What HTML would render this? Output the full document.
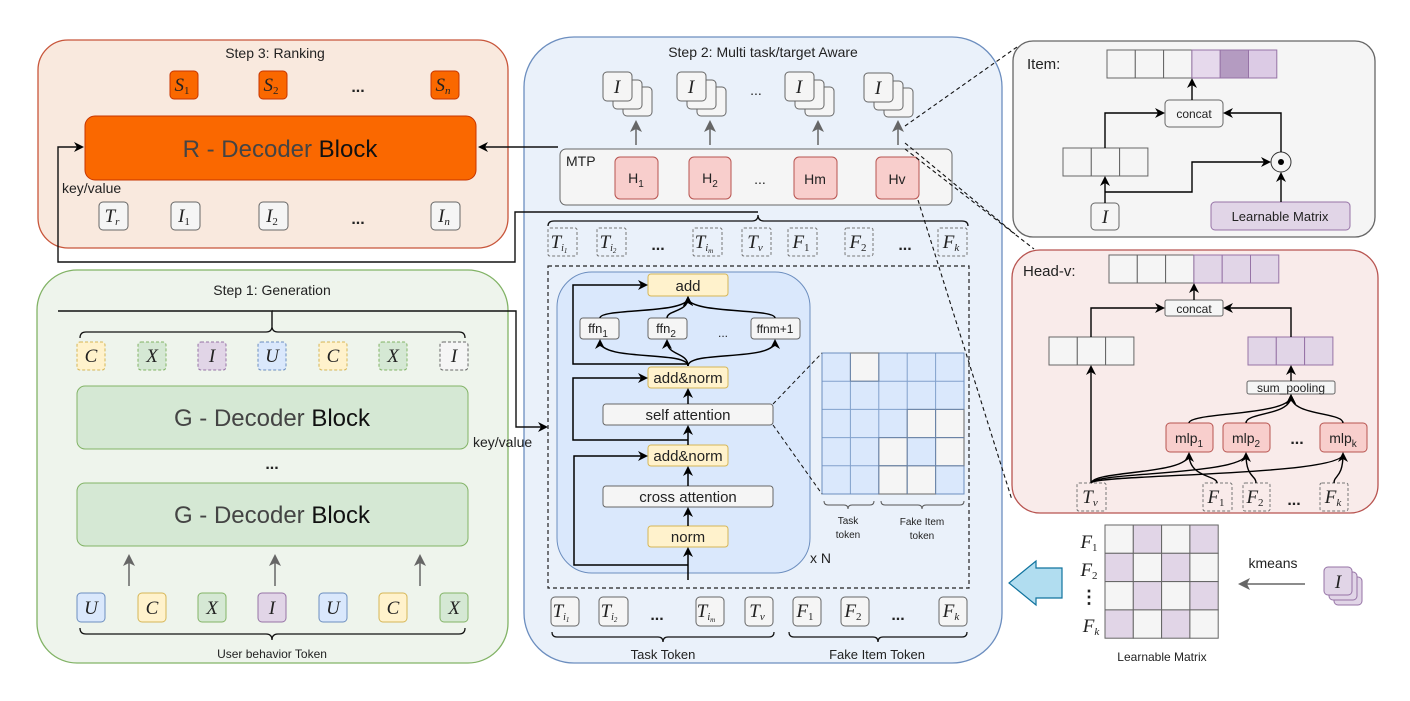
<!DOCTYPE html>
<html><head><meta charset="utf-8"><style>
body{margin:0;background:#fff}
svg{display:block}
text{font-family:"Liberation Sans",sans-serif;fill:#222}
.m{font-family:"Liberation Serif",serif;font-style:italic;font-size:19px;fill:#222}
.s{font-size:11px}
</style></head><body>
<svg width="1410" height="701" viewBox="0 0 1410 701" xmlns="http://www.w3.org/2000/svg">
<defs>
<marker id="a" markerWidth="10" markerHeight="10" refX="8" refY="5" orient="auto" markerUnits="userSpaceOnUse"><path d="M0,0 L10,5 L0,10 L3,5z" fill="#000"/></marker>
<marker id="g" markerWidth="12" markerHeight="12" refX="10" refY="6" orient="auto" markerUnits="userSpaceOnUse"><path d="M0,0 L12,6 L0,12 L3,6z" fill="#666"/></marker>
</defs>

<!-- Step 3 -->
<rect x="38" y="40" width="470" height="208" rx="30" fill="#f9e9de" stroke="#c8563b" stroke-width="1.3"/>
<text x="275" y="58" text-anchor="middle" font-size="14">Step 3: Ranking</text>
<g fill="#fa6800" stroke="#c73500"><rect x="170" y="71" width="28" height="28" rx="4"/><rect x="259" y="71" width="28" height="28" rx="4"/><rect x="431" y="71" width="28" height="28" rx="4"/></g>
<text class="m" x="182" y="91" text-anchor="middle">S<tspan class="s" font-style="normal" dy="3">1</tspan></text>
<text class="m" x="271" y="91" text-anchor="middle">S<tspan class="s" font-style="normal" dy="3">2</tspan></text>
<text class="m" x="443" y="91" text-anchor="middle">S<tspan class="s" dy="3">n</tspan></text>
<text x="358" y="92" text-anchor="middle" font-size="16" font-weight="bold">...</text>
<rect x="85" y="116" width="391" height="64" rx="10" fill="#fa6800" stroke="#c73500"/>
<text x="280" y="157" text-anchor="middle" font-size="24"><tspan fill="#444">R - Decoder</tspan> <tspan fill="#111">Block</tspan></text>
<text x="62" y="193" font-size="14">key/value</text>
<g fill="#f5f5f5" stroke="#666"><rect x="99" y="202" width="29" height="28" rx="4"/><rect x="171" y="202" width="29" height="28" rx="4"/><rect x="259" y="202" width="29" height="28" rx="4"/><rect x="431" y="202" width="29" height="28" rx="4"/></g>
<text class="m" x="112" y="222" text-anchor="middle">T<tspan class="s" dy="3">r</tspan></text>
<text class="m" x="184" y="222" text-anchor="middle">I<tspan class="s" font-style="normal" dy="3">1</tspan></text>
<text class="m" x="272" y="222" text-anchor="middle">I<tspan class="s" font-style="normal" dy="3">2</tspan></text>
<text class="m" x="444" y="222" text-anchor="middle">I<tspan class="s" dy="3">n</tspan></text>
<text x="358" y="224" text-anchor="middle" font-size="16" font-weight="bold">...</text>

<!-- Step 1 -->
<rect x="37" y="270" width="471" height="393" rx="40" fill="#eef4ec" stroke="#82b366" stroke-width="1.3"/>
<text x="272" y="295" text-anchor="middle" font-size="14">Step 1: Generation</text>
<path d="M80,338 q0,-6 6,-6 h180 q6,0 6,-6 q0,6 6,6 h181 q6,0 6,6" fill="none" stroke="#111" stroke-width="1.3"/>
<g stroke-dasharray="3,2">
<rect x="77" y="342" width="28" height="28" rx="3" fill="#fff2cc" stroke="#d6b656"/>
<rect x="138" y="342" width="28" height="28" rx="3" fill="#d5e8d4" stroke="#82b366"/>
<rect x="198" y="342" width="28" height="28" rx="3" fill="#e1d5e7" stroke="#9673a6"/>
<rect x="258" y="342" width="28" height="28" rx="3" fill="#dae8fc" stroke="#6c8ebf"/>
<rect x="319" y="342" width="28" height="28" rx="3" fill="#fff2cc" stroke="#d6b656"/>
<rect x="379" y="342" width="28" height="28" rx="3" fill="#d5e8d4" stroke="#82b366"/>
<rect x="440" y="342" width="28" height="28" rx="3" fill="#f5f5f5" stroke="#666"/>
</g>
<text class="m" x="91" y="362" text-anchor="middle">C</text><text class="m" x="152" y="362" text-anchor="middle">X</text><text class="m" x="212" y="362" text-anchor="middle">I</text><text class="m" x="272" y="362" text-anchor="middle">U</text><text class="m" x="333" y="362" text-anchor="middle">C</text><text class="m" x="393" y="362" text-anchor="middle">X</text><text class="m" x="454" y="362" text-anchor="middle">I</text>
<rect x="77" y="386" width="391" height="63" rx="8" fill="#d5e8d4" stroke="#82b366"/>
<text x="272" y="426" text-anchor="middle" font-size="24"><tspan fill="#444">G - Decoder</tspan> <tspan fill="#111">Block</tspan></text>
<text x="272" y="469" text-anchor="middle" font-size="16" font-weight="bold">...</text>
<rect x="77" y="483" width="391" height="63" rx="8" fill="#d5e8d4" stroke="#82b366"/>
<text x="272" y="523" text-anchor="middle" font-size="24"><tspan fill="#444">G - Decoder</tspan> <tspan fill="#111">Block</tspan></text>
<g stroke="#666" stroke-width="1.5" marker-end="url(#g)"><line x1="129" y1="586" x2="129" y2="556"/><line x1="275" y1="586" x2="275" y2="556"/><line x1="420" y1="586" x2="420" y2="556"/></g>
<rect x="77" y="593" width="28" height="29" rx="4" fill="#dae8fc" stroke="#6c8ebf"/>
<rect x="138" y="593" width="28" height="29" rx="4" fill="#fff2cc" stroke="#d6b656"/>
<rect x="198" y="593" width="28" height="29" rx="4" fill="#d5e8d4" stroke="#82b366"/>
<rect x="258" y="593" width="28" height="29" rx="4" fill="#e1d5e7" stroke="#9673a6"/>
<rect x="319" y="593" width="28" height="29" rx="4" fill="#dae8fc" stroke="#6c8ebf"/>
<rect x="379" y="593" width="28" height="29" rx="4" fill="#fff2cc" stroke="#d6b656"/>
<rect x="440" y="593" width="28" height="29" rx="4" fill="#d5e8d4" stroke="#82b366"/>
<text class="m" x="91" y="614" text-anchor="middle">U</text><text class="m" x="152" y="614" text-anchor="middle">C</text><text class="m" x="212" y="614" text-anchor="middle">X</text><text class="m" x="272" y="614" text-anchor="middle">I</text><text class="m" x="333" y="614" text-anchor="middle">U</text><text class="m" x="393" y="614" text-anchor="middle">C</text><text class="m" x="454" y="614" text-anchor="middle">X</text>
<path d="M80,628 q0,6 6,6 h180 q6,0 6,6 q0,-6 6,-6 h181 q6,0 6,-6" fill="none" stroke="#111" stroke-width="1.3"/>
<text x="272" y="658" text-anchor="middle" font-size="12">User behavior Token</text>

<!-- Step 2 -->
<rect x="524" y="37" width="478" height="626" rx="50" fill="#eaf1fa" stroke="#6c8ebf" stroke-width="1.3"/>
<text x="763" y="57" text-anchor="middle" font-size="14">Step 2: Multi task/target Aware</text>
<g fill="#f5f5f5" stroke="#666">
<rect x="623" y="87" width="29" height="29" rx="4"/><rect x="613" y="80" width="29" height="29" rx="4"/><rect x="603" y="72" width="29" height="29" rx="4"/>
<rect x="697" y="87" width="29" height="29" rx="4"/><rect x="687" y="80" width="29" height="29" rx="4"/><rect x="677" y="72" width="29" height="29" rx="4"/>
<rect x="805" y="87" width="29" height="29" rx="4"/><rect x="795" y="80" width="29" height="29" rx="4"/><rect x="785" y="72" width="29" height="29" rx="4"/>
<rect x="884" y="88" width="29" height="29" rx="4"/><rect x="874" y="81" width="29" height="29" rx="4"/><rect x="864" y="73" width="29" height="29" rx="4"/>
</g>
<text class="m" x="617" y="93" text-anchor="middle">I</text><text class="m" x="691" y="93" text-anchor="middle">I</text><text class="m" x="799" y="93" text-anchor="middle">I</text><text class="m" x="878" y="94" text-anchor="middle">I</text>
<text x="756" y="95" text-anchor="middle" font-size="14">...</text>
<g stroke="#666" stroke-width="1.5" marker-end="url(#g)"><line x1="636" y1="145" x2="636" y2="122"/><line x1="710" y1="145" x2="710" y2="122"/><line x1="818" y1="145" x2="818" y2="122"/><line x1="898" y1="145" x2="898" y2="122"/></g>
<rect x="560" y="149" width="392" height="56" rx="6" fill="#f5f5f5" stroke="#666"/>
<text x="566" y="166" font-size="14">MTP</text>
<g fill="#f8cecc" stroke="#b85450"><rect x="615" y="157" width="43" height="42" rx="5"/><rect x="689" y="157" width="42" height="42" rx="5"/><rect x="794" y="157" width="43" height="42" rx="5"/><rect x="876" y="157" width="43" height="42" rx="5"/></g>
<text x="636" y="183" text-anchor="middle" font-size="14">H<tspan font-size="10" dy="4">1</tspan></text>
<text x="710" y="183" text-anchor="middle" font-size="14">H<tspan font-size="10" dy="4">2</tspan></text>
<text x="815" y="184" text-anchor="middle" font-size="14">Hm</text>
<text x="897" y="184" text-anchor="middle" font-size="14">Hv</text>
<text x="760" y="184" text-anchor="middle" font-size="14">...</text>
<path d="M548,226 q0,-5 6,-5 h198 q6,0 6,-6 q0,6 6,6 h198 q6,0 6,5" fill="none" stroke="#111" stroke-width="1.3"/>
<g fill="none" stroke="#777" stroke-dasharray="3,2">
<rect x="548" y="228" width="29" height="28" rx="2"/><rect x="597" y="228" width="29" height="28" rx="2"/><rect x="693" y="228" width="29" height="28" rx="2"/><rect x="742" y="228" width="29" height="28" rx="2"/><rect x="788" y="228" width="29" height="28" rx="2"/><rect x="845" y="228" width="28" height="28" rx="2"/><rect x="938" y="228" width="29" height="28" rx="2"/>
</g>
<text class="m" x="559" y="248" text-anchor="middle">T<tspan font-size="10" dy="3">i</tspan><tspan font-size="7" dy="2">1</tspan></text>
<text class="m" x="608" y="248" text-anchor="middle">T<tspan font-size="10" dy="3">i</tspan><tspan font-size="7" dy="2">2</tspan></text>
<text class="m" x="704" y="248" text-anchor="middle">T<tspan font-size="10" dy="3">i</tspan><tspan font-size="7" dy="2">m</tspan></text>
<text class="m" x="755" y="248" text-anchor="middle">T<tspan font-size="11" dy="3">v</tspan></text>
<text class="m" x="801" y="248" text-anchor="middle">F<tspan font-size="11" font-style="normal" dy="3">1</tspan></text>
<text class="m" x="858" y="248" text-anchor="middle">F<tspan font-size="11" font-style="normal" dy="3">2</tspan></text>
<text class="m" x="951" y="248" text-anchor="middle">F<tspan font-size="11" dy="3">k</tspan></text>
<text x="658" y="250" text-anchor="middle" font-size="16" font-weight="bold">...</text>
<text x="905" y="250" text-anchor="middle" font-size="16" font-weight="bold">...</text>

<rect x="548" y="266" width="421" height="322" fill="none" stroke="#222" stroke-dasharray="4,3" stroke-width="1.2"/>
<rect x="557" y="272" width="253" height="301" rx="35" fill="#dae8fc" stroke="#6c8ebf"/>
<g fill="#fff2cc" stroke="#d6b656"><rect x="648" y="274" width="80" height="22" rx="3"/><rect x="648" y="367" width="80" height="21" rx="3"/><rect x="648" y="445" width="80" height="21" rx="3"/><rect x="648" y="526" width="80" height="21" rx="3"/></g>
<g fill="#f5f5f5" stroke="#666"><rect x="580" y="318" width="39" height="21" rx="3"/><rect x="648" y="318" width="39" height="21" rx="3"/><rect x="751" y="318" width="49" height="21" rx="3"/><rect x="603" y="404" width="170" height="21" rx="3"/><rect x="603" y="486" width="170" height="21" rx="3"/></g>
<g font-size="15" text-anchor="middle">
<text x="688" y="291">add</text><text x="688" y="383">add&amp;norm</text><text x="688" y="461">add&amp;norm</text><text x="688" y="542">norm</text>
<text x="688" y="420" fill="#333">self attention</text><text x="688" y="502" fill="#333">cross attention</text>
<text x="598" y="333" font-size="13" fill="#333">ffn<tspan font-size="10" dy="4">1</tspan></text>
<text x="666" y="333" font-size="13" fill="#333">ffn<tspan font-size="10" dy="4">2</tspan></text>
<text x="775" y="333" font-size="12" fill="#333">ffnm+1</text>
<text x="723" y="337" font-size="12">...</text>
</g>
<g fill="none" stroke="#000" stroke-width="1.5">
<path d="M688,580 V549" marker-end="url(#a)"/>
<path d="M688,526 V509" marker-end="url(#a)"/>
<path d="M688,486 V468" marker-end="url(#a)"/>
<path d="M688,445 V427" marker-end="url(#a)"/>
<path d="M688,404 V390" marker-end="url(#a)"/>
<path d="M688,565 H574 V456 H646" marker-end="url(#a)"/>
<path d="M688,440 H573 V378 H646" marker-end="url(#a)"/>
<path d="M688,364 H573 V285 H646" marker-end="url(#a)"/>
<path d="M688,366 C688,350 600,362 600,341" marker-end="url(#a)"/>
<path d="M688,366 C688,352 667,356 667,341" marker-end="url(#a)"/>
<path d="M688,366 C688,350 775,362 775,341" marker-end="url(#a)"/>
<path d="M600,318 C600,308 688,314 688,298" marker-end="url(#a)"/>
<path d="M667,318 C667,310 688,312 688,298" marker-end="url(#a)"/>
<path d="M775,318 C775,308 688,314 688,298" marker-end="url(#a)"/>
</g>
<!-- attention matrix -->
<rect x="822" y="353" width="142" height="141" stroke="#6c8ebf" fill="#dae8fc"/>
<g stroke="#666" fill="#f5f5f5">
<rect x="850.4" y="353" width="28.4" height="28.2"/>
<rect x="907.2" y="409.4" width="28.4" height="28.2"/><rect x="935.6" y="409.4" width="28.4" height="28.2"/>
<rect x="878.8" y="437.6" width="28.4" height="28.2"/><rect x="935.6" y="437.6" width="28.4" height="28.2"/>
<rect x="878.8" y="465.8" width="28.4" height="28.2"/><rect x="907.2" y="465.8" width="28.4" height="28.2"/>
</g>
<path d="M850.4,353V494M878.8,353V494M907.2,353V494M935.6,353V494M822,381.2H964M822,409.4H964M822,437.6H964M822,465.8H964" stroke="#6c8ebf" fill="none" opacity="0.8"/>
<g fill="none" stroke="#555" stroke-width="1">
<path d="M824,501 q0,4 4,4 h16 q4,0 4,4 q0,-4 4,-4 h18 q4,0 4,-4"/>
<path d="M881,501 q0,4 4,4 h33 q4,0 4,4 q0,-4 4,-4 h34 q4,0 4,-4"/>
</g>
<g font-size="10" text-anchor="middle" fill="#333"><text x="848" y="524">Task</text><text x="848" y="538">token</text><text x="922" y="525">Fake Item</text><text x="922" y="539">token</text></g>
<g stroke="#111" stroke-dasharray="4,3" fill="none"><line x1="773" y1="404" x2="822" y2="353"/><line x1="773" y1="425" x2="822" y2="494"/></g>
<text x="810" y="563" font-size="14">x N</text>

<g fill="#f5f5f5" stroke="#666"><rect x="551" y="597" width="28" height="29" rx="4"/><rect x="599" y="597" width="29" height="29" rx="4"/><rect x="696" y="597" width="28" height="29" rx="4"/><rect x="745" y="597" width="28" height="29" rx="4"/><rect x="793" y="597" width="28" height="29" rx="4"/><rect x="841" y="597" width="28" height="29" rx="4"/><rect x="939" y="597" width="28" height="29" rx="4"/></g>
<text class="m" x="561" y="617" text-anchor="middle">T<tspan font-size="10" dy="3">i</tspan><tspan font-size="7" dy="2">1</tspan></text>
<text class="m" x="609" y="617" text-anchor="middle">T<tspan font-size="10" dy="3">i</tspan><tspan font-size="7" dy="2">2</tspan></text>
<text class="m" x="706" y="617" text-anchor="middle">T<tspan font-size="10" dy="3">i</tspan><tspan font-size="7" dy="2">m</tspan></text>
<text class="m" x="757" y="617" text-anchor="middle">T<tspan font-size="11" dy="3">v</tspan></text>
<text class="m" x="805" y="617" text-anchor="middle">F<tspan font-size="11" font-style="normal" dy="3">1</tspan></text>
<text class="m" x="853" y="617" text-anchor="middle">F<tspan font-size="11" font-style="normal" dy="3">2</tspan></text>
<text class="m" x="951" y="617" text-anchor="middle">F<tspan font-size="11" dy="3">k</tspan></text>
<text x="657" y="620" text-anchor="middle" font-size="16" font-weight="bold">...</text>
<text x="898" y="620" text-anchor="middle" font-size="16" font-weight="bold">...</text>
<path d="M552,632 q0,5 5,5 h101 q5,0 5,5 q0,-5 5,-5 h101 q5,0 5,-5" fill="none" stroke="#111" stroke-width="1.3"/>
<path d="M789,632 q0,5 5,5 h79 q5,0 5,5 q0,-5 5,-5 h79 q5,0 5,-5" fill="none" stroke="#111" stroke-width="1.3"/>
<text x="663" y="659" text-anchor="middle" font-size="13">Task Token</text>
<text x="877" y="659" text-anchor="middle" font-size="13">Fake Item Token</text>

<!-- long connectors -->
<g fill="none" stroke="#111" stroke-width="1.4">
<path d="M758,212 H515 V262 H58 V147 H82" marker-end="url(#a)"/>
<path d="M272,326 V311 H58"/>
<path d="M272,311 H516 V427 H546" marker-end="url(#a)"/>
<path d="M558,147 H480" marker-end="url(#a)"/>
</g>
<text x="473" y="447" font-size="14">key/value</text>

<!-- dashed zoom lines -->
<g stroke="#111" stroke-dasharray="4,3" fill="none" stroke-width="1.1">
<line x1="905" y1="126" x2="1017" y2="47"/>
<line x1="905" y1="143" x2="1015" y2="234"/>
<line x1="905" y1="149" x2="1034" y2="249"/>
<line x1="918" y1="200" x2="1012" y2="500"/>
</g>

<!-- Item box -->
<rect x="1013" y="41" width="362" height="196" rx="20" fill="#f5f5f5" stroke="#666" stroke-width="1.3"/>
<text x="1027" y="69" font-size="15">Item:</text>
<g stroke="#666" fill="#f5f5f5"><rect x="1107" y="50" width="28.3" height="28"/><rect x="1135.3" y="50" width="28.3" height="28"/><rect x="1163.6" y="50" width="28.3" height="28"/></g>
<g stroke="#9673a6"><rect x="1191.9" y="50" width="28.3" height="28" fill="#e6d9ec"/><rect x="1220.2" y="50" width="28.3" height="28" fill="#b49bc1"/><rect x="1248.5" y="50" width="28.3" height="28" fill="#dccbe5"/></g>
<rect x="1165" y="100" width="58" height="27" rx="4" fill="#f5f5f5" stroke="#666"/>
<text x="1194" y="118" text-anchor="middle" font-size="12" fill="#333">concat</text>
<g stroke="#666" fill="#f5f5f5"><rect x="1063" y="148" width="28.3" height="28"/><rect x="1091.3" y="148" width="28.3" height="28"/><rect x="1119.6" y="148" width="28.3" height="28"/></g>
<circle cx="1281" cy="162" r="10" fill="#f5f5f5" stroke="#333"/><circle cx="1281" cy="162" r="3" fill="#000"/>
<rect x="1091" y="203" width="28" height="27" rx="4" fill="#f5f5f5" stroke="#666"/>
<text class="m" x="1105" y="223" text-anchor="middle">I</text>
<rect x="1211" y="202" width="139" height="28" rx="4" fill="#e1d5e7" stroke="#9673a6"/>
<text x="1280" y="221" text-anchor="middle" font-size="13" fill="#333">Learnable Matrix</text>
<g fill="none" stroke="#000" stroke-width="1.4">
<path d="M1192,100 V80" marker-end="url(#a)"/>
<path d="M1105,148 V113 H1163" marker-end="url(#a)"/>
<path d="M1281,152 V113 H1225" marker-end="url(#a)"/>
<path d="M1105,203 V178" marker-end="url(#a)"/>
<path d="M1105,192 H1192 V162 H1269" marker-end="url(#a)"/>
<path d="M1281,202 V174" marker-end="url(#a)"/>
</g>

<!-- Head-v -->
<rect x="1012" y="250" width="366" height="263" rx="28" fill="#f9ebea" stroke="#b85450" stroke-width="1.3"/>
<text x="1023" y="276" font-size="15">Head-v:</text>
<g stroke="#666" fill="#f5f5f5"><rect x="1109" y="255" width="28.3" height="28"/><rect x="1137.3" y="255" width="28.3" height="28"/><rect x="1165.6" y="255" width="28.3" height="28"/></g>
<g stroke="#9673a6" fill="#e1d5e7"><rect x="1193.9" y="255" width="28.3" height="28"/><rect x="1222.2" y="255" width="28.3" height="28"/><rect x="1250.5" y="255" width="28.3" height="28"/></g>
<rect x="1165" y="300" width="58" height="16" rx="2" fill="#f5f5f5" stroke="#666"/>
<text x="1194" y="313" text-anchor="middle" font-size="12" fill="#333">concat</text>
<g stroke="#666" fill="#f5f5f5"><rect x="1049" y="337" width="28.3" height="28"/><rect x="1077.3" y="337" width="28.3" height="28"/><rect x="1105.6" y="337" width="28.3" height="28"/></g>
<g stroke="#9673a6" fill="#e1d5e7"><rect x="1248" y="337" width="28.3" height="28"/><rect x="1276.3" y="337" width="28.3" height="28"/><rect x="1304.6" y="337" width="28.3" height="28"/></g>
<rect x="1247" y="381" width="88" height="13" rx="2" fill="#f5f5f5" stroke="#666"/>
<text x="1291" y="392" text-anchor="middle" font-size="12" fill="#333">sum_pooling</text>
<g fill="#f8cecc" stroke="#b85450"><rect x="1166" y="423" width="47" height="29" rx="4"/><rect x="1223" y="423" width="47" height="29" rx="4"/><rect x="1320" y="423" width="47" height="29" rx="4"/></g>
<text x="1189" y="443" text-anchor="middle" font-size="14">mlp<tspan font-size="10" dy="4">1</tspan></text>
<text x="1246" y="443" text-anchor="middle" font-size="14">mlp<tspan font-size="10" dy="4">2</tspan></text>
<text x="1343" y="443" text-anchor="middle" font-size="14">mlp<tspan font-size="10" dy="4">k</tspan></text>
<text x="1297" y="444" text-anchor="middle" font-size="16" font-weight="bold">...</text>
<g fill="none" stroke="#777" stroke-dasharray="3,2"><rect x="1077" y="483" width="29" height="28" rx="2"/><rect x="1203" y="483" width="29" height="28" rx="2"/><rect x="1243" y="483" width="27" height="28" rx="2"/><rect x="1320" y="483" width="28" height="28" rx="2"/></g>
<text class="m" x="1090" y="503" text-anchor="middle">T<tspan font-size="11" dy="3">v</tspan></text>
<text class="m" x="1216" y="503" text-anchor="middle">F<tspan font-size="11" font-style="normal" dy="3">1</tspan></text>
<text class="m" x="1255" y="503" text-anchor="middle">F<tspan font-size="11" font-style="normal" dy="3">2</tspan></text>
<text class="m" x="1333" y="503" text-anchor="middle">F<tspan font-size="11" dy="3">k</tspan></text>
<text x="1294" y="505" text-anchor="middle" font-size="16" font-weight="bold">...</text>
<g fill="none" stroke="#000" stroke-width="1.4">
<path d="M1194,300 V285" marker-end="url(#a)"/>
<path d="M1091,337 V308 H1163" marker-end="url(#a)"/>
<path d="M1291,337 V308 H1225" marker-end="url(#a)"/>
<path d="M1091,483 V367" marker-end="url(#a)"/>
<path d="M1291,381 V367" marker-end="url(#a)"/>
<path d="M1189,423 C1189,412 1291,416 1291,396" marker-end="url(#a)"/>
<path d="M1246,423 C1246,412 1291,416 1291,396" marker-end="url(#a)"/>
<path d="M1343,423 C1343,412 1291,416 1291,396" marker-end="url(#a)"/>
<path d="M1091,483 C1095,470 1189,475 1189,454" marker-end="url(#a)"/>
<path d="M1091,483 C1095,472 1246,475 1246,454" marker-end="url(#a)"/>
<path d="M1091,483 C1095,474 1343,476 1343,454" marker-end="url(#a)"/>
<path d="M1217,483 C1217,475 1189,478 1189,454"/>
<path d="M1256,483 C1256,475 1246,478 1246,454"/>
<path d="M1334,483 C1334,475 1343,478 1343,454"/>
</g>

<!-- bottom right -->
<path d="M1062,568 H1036 V561 L1009,583 L1036,605 V598 H1062 Z" fill="#b1ddf0" stroke="#10739e" stroke-width="1.2"/>
<g stroke="#666">
<rect x="1105" y="525" width="28.3" height="28.3" fill="#f5f5f5"/><rect x="1133.3" y="525" width="28.3" height="28.3" fill="#e1d5e7"/><rect x="1161.6" y="525" width="28.3" height="28.3" fill="#f5f5f5"/><rect x="1189.9" y="525" width="28.3" height="28.3" fill="#e1d5e7"/>
<rect x="1105" y="553.3" width="28.3" height="28.3" fill="#e1d5e7"/><rect x="1133.3" y="553.3" width="28.3" height="28.3" fill="#f5f5f5"/><rect x="1161.6" y="553.3" width="28.3" height="28.3" fill="#e1d5e7"/><rect x="1189.9" y="553.3" width="28.3" height="28.3" fill="#f5f5f5"/>
<rect x="1105" y="581.6" width="28.3" height="28.3" fill="#f5f5f5"/><rect x="1133.3" y="581.6" width="28.3" height="28.3" fill="#e1d5e7"/><rect x="1161.6" y="581.6" width="28.3" height="28.3" fill="#f5f5f5"/><rect x="1189.9" y="581.6" width="28.3" height="28.3" fill="#e1d5e7"/>
<rect x="1105" y="609.9" width="28.3" height="28.3" fill="#e1d5e7"/><rect x="1133.3" y="609.9" width="28.3" height="28.3" fill="#f5f5f5"/><rect x="1161.6" y="609.9" width="28.3" height="28.3" fill="#e1d5e7"/><rect x="1189.9" y="609.9" width="28.3" height="28.3" fill="#f5f5f5"/>
</g>
<text class="m" x="1089" y="548" text-anchor="middle">F<tspan font-size="11" font-style="normal" dy="3">1</tspan></text>
<text class="m" x="1089" y="576" text-anchor="middle">F<tspan font-size="11" font-style="normal" dy="3">2</tspan></text>
<text x="1089" y="603" text-anchor="middle" font-size="18" font-weight="bold">⋮</text>
<text class="m" x="1091" y="632" text-anchor="middle">F<tspan font-size="11" dy="3">k</tspan></text>
<text x="1162" y="661" text-anchor="middle" font-size="12" fill="#333">Learnable Matrix</text>
<text x="1273" y="568" text-anchor="middle" font-size="14">kmeans</text>
<line x1="1305" y1="584" x2="1240" y2="584" stroke="#666" stroke-width="1.5" marker-end="url(#g)"/>
<g fill="#e1d5e7" stroke="#9673a6"><rect x="1334" y="577" width="28" height="28" rx="4"/><rect x="1329" y="572" width="28" height="28" rx="4"/><rect x="1324" y="567" width="28" height="28" rx="4"/></g>
<text class="m" x="1338" y="588" text-anchor="middle">I</text>
</svg>
</body></html>
